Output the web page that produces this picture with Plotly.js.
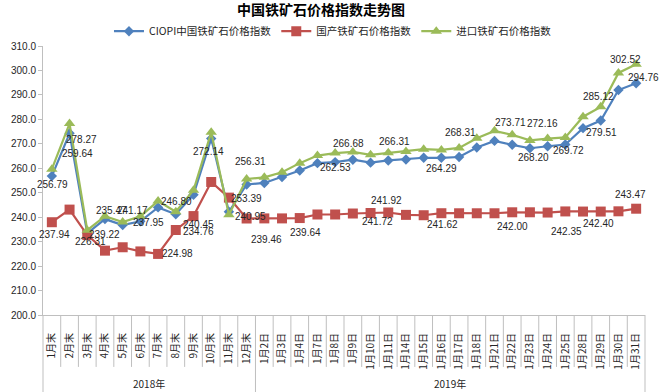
<!DOCTYPE html>
<html>
<head>
<meta charset="utf-8">
<script src="https://cdn.plot.ly/plotly-3.0.1.min.js"></script>
<style>html,body{margin:0;padding:0;background:#fff;}#chart{width:666px;height:392px;}</style>
</head>
<body>
<div id="chart"></div>
<script>
// ---- data ----
const months2018 = ['1月末','2月末','3月末','4月末','5月末','6月末','7月末','8月末','9月末','10月末','11月末','12月末'];
const days2019 = ['1月2日','1月3日','1月4日','1月7日','1月8日','1月9日','1月10日','1月11日','1月14日','1月15日','1月16日','1月17日','1月18日','1月21日','1月22日','1月23日','1月24日','1月25日','1月28日','1月29日','1月30日','1月31日'];
const yearLabels = ['2018年','2019年'];
const categories = months2018.concat(days2019);

const seriesNames = ['CIOPI中国铁矿石价格指数','国产铁矿石价格指数','进口铁矿石价格指数'];
const ciopi = [256.79,274.3,233.4,239.22,236.8,238.3,244.0,241.2,249.2,272.14,242.2,253.39,254.0,256.4,259.1,262.1,262.53,263.5,262.3,263.2,263.6,264.3,264.29,264.6,268.5,271.2,269.6,268.20,269.0,269.72,276.4,279.51,292.0,294.76];
const domestic = [237.94,243.1,232.7,226.31,227.7,226.0,224.98,234.76,240.45,254.4,248.0,239.46,239.5,239.5,239.64,241.1,241.1,241.5,241.72,241.92,240.95,240.8,241.62,241.6,241.6,241.6,242.0,242.00,241.9,242.35,242.3,242.3,242.40,243.47];
const imported = [259.64,278.27,234.7,240.4,238.0,240.4,246.6,242.2,251.0,274.7,240.95,255.6,256.31,258.4,262.1,265.2,266.2,266.68,265.5,266.31,266.9,267.8,267.5,268.31,272.3,275.3,273.71,271.4,272.16,272.6,281.1,285.12,299.0,302.52];

// data labels: category index and printed value
const labelIndex = [0,1,1,3,4,5,7,0,3,2,6,8,8,9,10,11,11,12,14,16,17,19,19,18,22,22,23,26,26,28,27,29,31,31,33,33,33,29,31];
const labelText  = ['256.79','278.27','259.64','235.47','241.17','237.95','246.80','237.94','239.22','226.31','224.98','240.45','234.76','272.14','253.39','240.95','256.31','239.46','239.64','262.53','266.68','266.31','241.92','241.72','241.62','264.29','268.31','273.71','242.00','272.16','268.20','269.72','279.51','285.12','302.52','294.76','243.47','242.35','242.40'];

// ---- style ----
const labelShift = [[1,-8],[12,-16],[7.5,16],[7,18],[9.5,4],[8,0],[1,-1],[3,-12],[0,-15],[3,9],[19,0],[5,-8],[5,-1],[-3,-13],[18,-14],[3.5,-1.5],[3.5,16],[2.5,-20.6],[5.4,-14.3],[0,-5],[-4.4,8],[6,11.7],[-1.4,12.3],[6.6,-9],[1,-11.4],[0.5,-10.3],[1,15.2],[-2,12.5],[0.7,-13.9],[-5,14.7],[3.6,-9.1],[3.2,-6],[0.5,-12.4],[-2.2,10.2],[-11,5],[7.4,5.8],[-6,14.7],[1.6,-20.4],[-2.2,-12.2]];
const colors = ['#4F81BD','#C0504D','#9BBB59'];
const symbols = ['diamond','square','triangle-up'];
const msizes = [8,10,10];
const cjk = '"Noto Sans CJK SC", "Noto Sans", sans-serif';
const latin = '"Liberation Sans", Arial, sans-serif';
const gridGrey = '#BFBFBF';

const xIdx = categories.map((_, i) => i);
const allSeries = [ciopi, domestic, imported];
const traces = allSeries.map((vals, s) => ({
  type: 'scatter', mode: 'lines+markers', name: seriesNames[s],
  x: xIdx, y: vals,
  line: {color: colors[s], width: 2.2},
  marker: {symbol: symbols[s], size: msizes[s], color: colors[s]},
  hoverinfo: 'skip'
}));

const n = categories.length;
const shapes = [];
for (let k = 0; k <= n; k++) {
  const outer = (k === 0 || k === months2018.length || k === n);
  shapes.push({type: 'line', xref: 'paper', yref: 'paper', x0: k / n, x1: k / n,
    y0: 0, y1: outer ? -0.29 : -0.193, line: {color: gridGrey, width: 1}});
}

const annotations = labelText.map((t, j) => ({
  x: labelIndex[j], y: parseFloat(t), xref: 'x', yref: 'y', text: t, showarrow: false,
  xanchor: 'center', yanchor: 'middle',
  xshift: labelShift[j][0], yshift: labelShift[j][1],
  font: {family: latin, size: 10, color: '#262626'}
}));
const groupSizes = [months2018.length, days2019.length];
let start = 0;
yearLabels.forEach((yl, g) => {
  annotations.push({x: (start + groupSizes[g] / 2) / n, y: -0.253, xref: 'paper', yref: 'paper',
    xanchor: 'center', yanchor: 'middle',
    text: yl, showarrow: false, font: {family: cjk, size: 10, color: '#262626'}});
  start += groupSizes[g];
});

const layout = {
  width: 666, height: 392,
  margin: {l: 43, r: 21, t: 46, b: 77},
  paper_bgcolor: '#fff', plot_bgcolor: '#fff',
  title: {text: '中国铁矿石价格指数走势图', xref: 'container', x: 0.482, xanchor: 'center',
    yref: 'container', y: 1 - 10 / 392, yanchor: 'middle',
    font: {family: cjk, size: 14, color: '#000', weight: 'bold'}},
  showlegend: true,
  legend: {orientation: 'h', x: 0.4817, xanchor: 'center', y: 1.055, yanchor: 'middle',
    font: {family: cjk, size: 10.5, color: '#262626'}, itemwidth: 30, bgcolor: 'rgba(0,0,0,0)'},
  xaxis: {range: [-0.5, n - 0.5], tickvals: xIdx, ticktext: categories, tickangle: -90,
    showline: true, linecolor: gridGrey, showgrid: false, zeroline: false, ticks: '',
    ticklabelstandoff: 13, tickfont: {family: cjk, size: 10, color: '#262626'}, fixedrange: true},
  yaxis: {range: [200, 310], dtick: 10, tick0: 200, tickformat: '.1f', showline: true, linecolor: gridGrey,
    ticks: 'outside', ticklen: 4, tickcolor: gridGrey, showgrid: false, zeroline: false,
    tickfont: {family: latin, size: 10, color: '#262626'}, fixedrange: true},
  shapes: shapes,
  annotations: annotations
};

Plotly.newPlot('chart', traces, layout, {displayModeBar: false, staticPlot: true});
</script>
</body>
</html>
